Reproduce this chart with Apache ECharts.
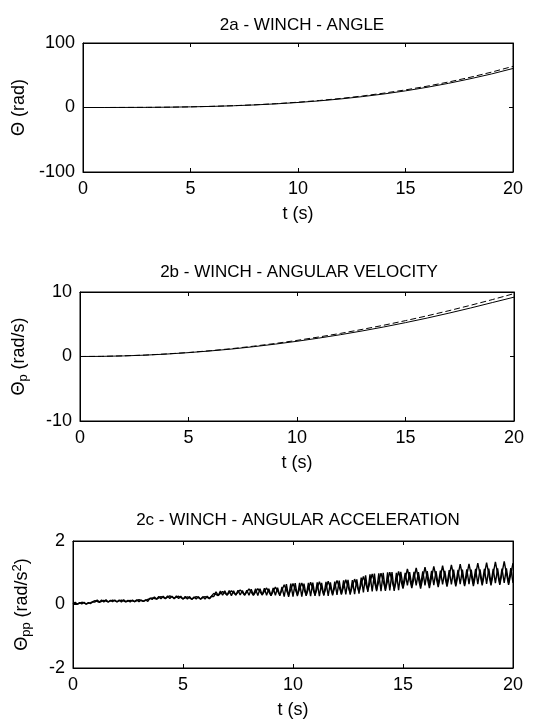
<!DOCTYPE html>
<html><head><meta charset="utf-8">
<script src="https://cdn.jsdelivr.net/npm/echarts@6/dist/echarts.min.js"></script>
<style>html,body{margin:0;padding:0;background:#fff}#c{width:547px;height:722px}</style>
</head><body><div id="c"></div>
<script>
const panelTitles = ['2a - WINCH - ANGLE', '2b - WINCH - ANGULAR VELOCITY', '2c - WINCH - ANGULAR ACCELERATION'];
const xAxisName = 't (s)';
const yNames = ['{t|Θ (rad)}', '{t|Θ}{s|p}{t| (rad/s)}', '{t|Θ}{s|pp}{t| (rad/s}{u|2}{t|)}'];
const yRanges = [[-100, 100, 100], [-10, 10, 10], [-2, 2, 2]];
const xRange = [0, 20, 5];

// Angle (rad), sampled every 1 s from 0 to 20 s
const angleTime = [0,1,2,3,4,5,6,7,8,9,10,11,12,13,14,15,16,17,18,19,20];
const angleSolid = [0,0,0.1,0.2,0.5,1.0,1.7,2.7,4.0,5.7,7.8,10.3,13.3,16.9,21.0,25.8,31.3,37.5,44.5,52.0,60.5];
const angleDashed = [0,0,0.1,0.2,0.5,1.0,1.8,2.8,4.2,6.0,8.2,10.9,14.1,17.9,22.3,27.3,33.0,39.5,46.8,54.8,63.8];

// Angular velocity (rad/s), every 1 s
const velTime = [0,1,2,3,4,5,6,7,8,9,10,11,12,13,14,15,16,17,18,19,20];
const velSolid = [0,0.02,0.09,0.21,0.38,0.6,0.86,1.16,1.52,1.92,2.36,2.85,3.38,3.96,4.58,5.25,5.96,6.72,7.52,8.36,9.2];
const velDashed = [0,0.02,0.1,0.22,0.4,0.62,0.9,1.22,1.6,2.02,2.5,3.02,3.58,4.2,4.85,5.56,6.31,7.1,7.94,8.82,9.75];

// Angular acceleration (rad/s^2), evenly sampled over 0..20 s
// accA: fast oscillation, 0.1 s samples (one row per second)
const accA = [
  0.02,0.07,0.01,0.06,0.02,0.07,0.01,0.06,0.03,0.08,
  0.08,0.14,0.08,0.14,0.08,0.15,0.08,0.13,0.09,0.14,
  0.08,0.14,0.08,0.15,0.09,0.13,0.08,0.14,0.09,0.15,
  0.09,0.14,0.10,0.15,0.10,0.20,0.16,0.24,0.17,0.25,
  0.18,0.26,0.18,0.27,0.19,0.26,0.18,0.27,0.19,0.26,
  0.17,0.25,0.17,0.25,0.16,0.24,0.17,0.25,0.16,0.25,
  0.17,0.26,0.18,0.26,0.25,0.40,0.28,0.42,0.29,0.43,
  0.29,0.44,0.28,0.43,0.29,0.45,0.30,0.44,0.29,0.45,
  0.29,0.48,0.30,0.50,0.28,0.50,0.30,0.51,0.29,0.50,
  0.28,0.52,0.29,0.53,0.27,0.55,0.25,0.64,0.24,0.66,
  0.25,0.67,0.26,0.68,0.25,0.66,0.27,0.68,0.26,0.69,
  0.27,0.70,0.26,0.68,0.28,0.71,0.27,0.70,0.29,0.72,
  0.30,0.75,0.31,0.76,0.32,0.78,0.31,0.77,0.33,0.79,
  0.34,0.85,0.38,0.92,0.40,0.95,0.41,0.97,0.42,0.98,
  0.42,1.00,0.43,1.01,0.44,1.02,0.43,1.00,0.45,1.03,
  0.58,1.00,0.60,1.02,0.59,1.03,0.60,1.02,0.61,1.04,
  0.60,1.05,0.62,1.06,0.61,1.05,0.62,1.07,0.63,1.06,
  0.62,1.08,0.63,1.10,0.62,1.09,0.64,1.10,0.63,1.11,
  0.64,1.10,0.65,1.12,0.64,1.11,0.66,1.12,0.65,1.13,
  0.66,1.12,0.67,1.14,0.66,1.13,0.68,1.14,0.67,1.15,
  0.68];
// accB: slower oscillation, 0.2 s samples (one row per second)
const accB = [
  0.05,0.01,0.07,0.02,0.06,
  0.12,0.07,0.13,0.08,0.14,
  0.09,0.14,0.08,0.13,0.09,
  0.15,0.10,0.16,0.21,0.17,
  0.25,0.19,0.27,0.20,0.26,
  0.18,0.24,0.17,0.25,0.18,
  0.25,0.19,0.35,0.28,0.41,
  0.30,0.43,0.31,0.46,0.30,
  0.49,0.29,0.50,0.30,0.52,
  0.28,0.55,0.30,0.62,0.28,
  0.66,0.30,0.68,0.29,0.70,
  0.30,0.72,0.31,0.73,0.32,
  0.76,0.34,0.78,0.35,0.80,
  0.40,0.88,0.45,0.96,0.46,
  0.99,0.47,1.02,0.48,1.04,
  0.50,1.12,0.52,1.15,0.50,
  1.18,0.52,1.20,0.55,1.22,
  0.56,1.25,0.57,1.27,0.58,
  1.28,0.58,1.30,0.60,1.32,
  0.60,1.34,0.62,1.36,0.62,
  1.30];

function pairs(ts, vs) { return vs.map((v, i) => [ts[i], v]); }
function even(vs) { const n = vs.length; return vs.map((v, i) => [xRange[1] * i / (n - 1), v]); }

const FONT = '"Liberation Sans", Arial, sans-serif';
const grids = [
  {left: 83, top: 43, width: 430, height: 129},
  {left: 80, top: 292, width: 434, height: 129},
  {left: 73, top: 541, width: 440, height: 127}
];
const titleTops = [12, 259, 507];
const titleCenters = [297, 294, 293];
const yNameGaps = [52, 50, 40];

const option = {
  backgroundColor: '#fff',
  animation: false,
  title: panelTitles.map((t, i) => ({
    text: t, left: titleCenters[i], top: titleTops[i], textAlign: 'center',
    textStyle: {fontFamily: FONT, fontSize: 17, fontWeight: 'normal', color: '#000'}
  })),
  grid: grids.map(g => Object.assign({show: true, borderColor: '#000', borderWidth: 1, backgroundColor: 'transparent'}, g)),
  xAxis: [],
  yAxis: [],
  series: []
};

grids.forEach((g, i) => {
  option.xAxis.push({
    type: 'value', gridIndex: i, min: xRange[0], max: xRange[1], interval: xRange[2], position: 'bottom',
    name: xAxisName, nameLocation: 'middle', nameGap: 33,
    nameTextStyle: {fontFamily: FONT, fontSize: 18, color: '#000'},
    axisLine: {show: true, onZero: false, lineStyle: {color: '#000', width: 1}},
    axisTick: {show: true, inside: true, length: 4, lineStyle: {color: '#000'}},
    axisLabel: {fontFamily: FONT, fontSize: 18, color: '#000', margin: 8},
    splitLine: {show: false}
  });
  option.xAxis.push({
    type: 'value', gridIndex: i, min: xRange[0], max: xRange[1], interval: xRange[2], position: 'top',
    axisLine: {show: true, onZero: false, lineStyle: {color: '#000', width: 1}},
    axisTick: {show: true, inside: true, length: 4, lineStyle: {color: '#000'}},
    axisLabel: {show: false}, splitLine: {show: false}
  });
  const r = yRanges[i];
  option.yAxis.push({
    type: 'value', gridIndex: i, min: r[0], max: r[1], interval: r[2], position: 'left',
    name: yNames[i], nameLocation: 'middle', nameGap: yNameGaps[i], nameRotate: 90,
    nameTextStyle: {fontFamily: FONT, fontSize: 18, color: '#000',
      rich: {
        t: {fontFamily: FONT, fontSize: 18, color: '#000', lineHeight: 22},
        s: {fontFamily: FONT, fontSize: 13, color: '#000', verticalAlign: 'bottom', lineHeight: 13},
        u: {fontFamily: FONT, fontSize: 13, color: '#000', verticalAlign: 'top', lineHeight: 13}
      }},
    axisLine: {show: true, onZero: false, lineStyle: {color: '#000', width: 1}},
    axisTick: {show: true, inside: true, length: 4, lineStyle: {color: '#000'}},
    axisLabel: {fontFamily: FONT, fontSize: 18, color: '#000', margin: 8},
    splitLine: {show: false}
  });
  option.yAxis.push({
    type: 'value', gridIndex: i, min: r[0], max: r[1], interval: r[2], position: 'right',
    axisLine: {show: true, onZero: false, lineStyle: {color: '#000', width: 1}},
    axisTick: {show: true, inside: true, length: 4, lineStyle: {color: '#000'}},
    axisLabel: {show: false}, splitLine: {show: false}
  });
});

function line(gi, data, dashed, w) {
  return {
    type: 'line', xAxisIndex: gi * 2, yAxisIndex: gi * 2, data: data, showSymbol: false, symbol: 'none',
    lineStyle: {color: '#000', width: w || 1, type: dashed ? [6, 3] : 'solid'}, silent: true
  };
}
option.series.push(line(0, pairs(angleTime, angleSolid), false));
option.series.push(line(0, pairs(angleTime, angleDashed), true));
option.series.push(line(1, pairs(velTime, velSolid), false));
option.series.push(line(1, pairs(velTime, velDashed), true));
option.series.push(line(2, even(accA), false, 1.4));
option.series.push(line(2, even(accB), false, 1.4));

const chart = echarts.init(document.getElementById('c'), null, {renderer: 'canvas'});
chart.setOption(option);
</script></body></html>
